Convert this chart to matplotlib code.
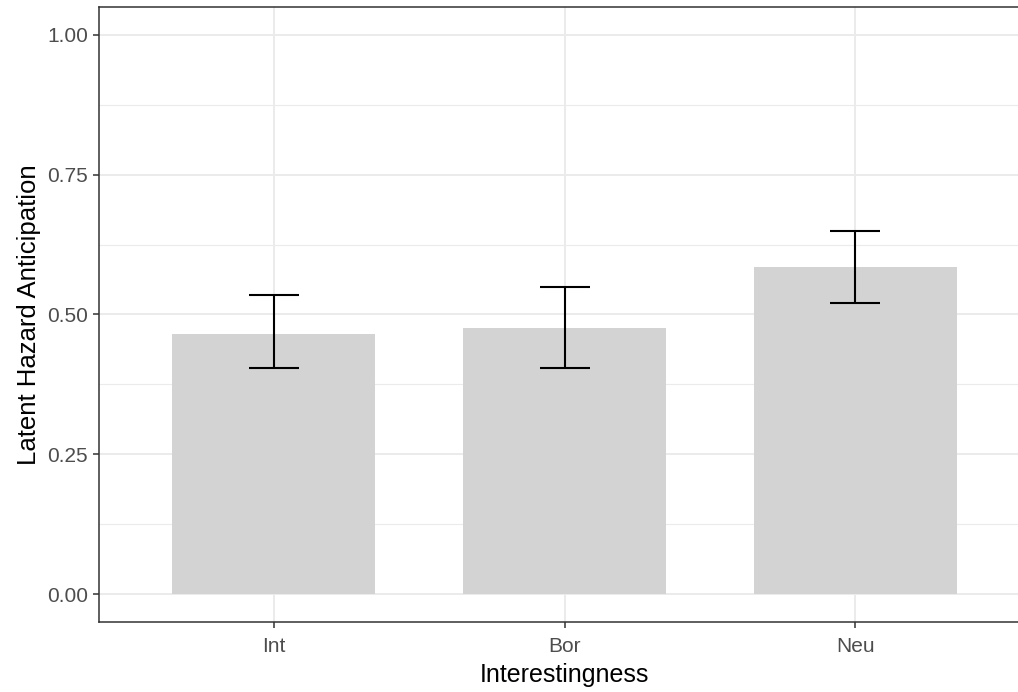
import numpy as np
import matplotlib
matplotlib.use("Agg")
import matplotlib.pyplot as plt

groups = ["Int", "Bor", "Neu"]
means = [0.466, 0.475, 0.585]
ci_low = [0.404, 0.404, 0.521]
ci_high = [0.534, 0.549, 0.649]

plt.rcParams["font.family"] = ["Liberation Sans", "DejaVu Sans"]

fig = plt.figure(figsize=(10.18, 6.92), dpi=100)
# panel runs slightly past the right edge of the canvas
ax = fig.add_axes([99 / 1018, 1 - 622 / 692, (1030 - 99) / 1018, (622 - 7) / 692])

x = np.arange(1, len(groups) + 1)
ax.bar(x, means, width=0.7, color="#D3D3D3", zorder=2)
ax.errorbar(x, means,
            yerr=[np.array(means) - np.array(ci_low), np.array(ci_high) - np.array(means)],
            fmt="none", ecolor="black", elinewidth=1.5, capsize=18, capthick=1.5, zorder=3)

ax.set_xlim(0.4, 3.6)
ax.set_ylim(-0.05, 1.05)
ax.set_xticks(x)
ax.set_xticklabels(groups)
ax.set_yticks([0, 0.25, 0.5, 0.75, 1.0])
ax.set_yticklabels(["0.00", "0.25", "0.50", "0.75", "1.00"])
ax.set_yticks([0.125, 0.375, 0.625, 0.875], minor=True)

ax.grid(which="major", color="#EBEBEB", linewidth=1.4, zorder=0)
ax.grid(which="minor", axis="y", color="#EBEBEB", linewidth=0.8, zorder=0)
ax.set_axisbelow(True)

for s in ax.spines.values():
    s.set_color("#333333")
    s.set_linewidth(1.1)

ax.tick_params(which="major", length=4, width=1.1, color="#333333",
               labelcolor="#4D4D4D", labelsize=15)
ax.tick_params(axis="x", pad=7)
ax.tick_params(axis="y", pad=4)
ax.tick_params(which="minor", length=0)

ax.set_xlabel("Interestingness", fontsize=18, color="black", labelpad=5)
ax.set_ylabel("Latent Hazard Anticipation", fontsize=18.5, color="black", labelpad=4)

fig.savefig("out.png", dpi=100)
